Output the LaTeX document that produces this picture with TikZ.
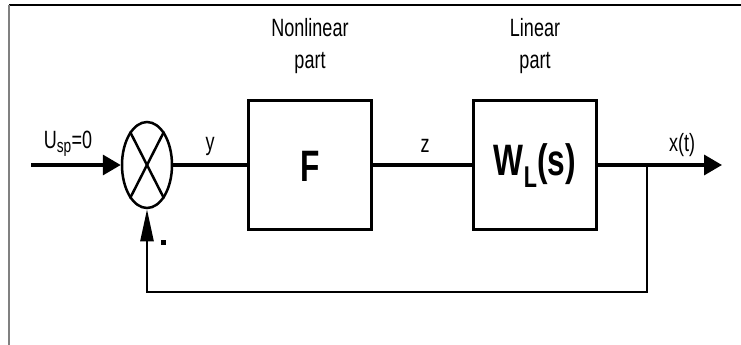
\documentclass[tikz,border=0pt]{standalone}
\usepackage{fontspec}
\setmainfont[FakeStretch=0.72]{Liberation Sans}
\usetikzlibrary{arrows.meta,shapes.geometric}
\begin{document}
\begin{tikzpicture}[x=1pt,y=-1pt,
  blk/.style={draw,line width=3.5pt,minimum width=123pt,minimum height=129pt,inner sep=0pt},
  lbl/.style={font=\fontsize{25}{27}\selectfont,inner sep=0pt},
  title/.style={font=\fontsize{25}{32}\selectfont,align=center,inner sep=0pt},
  big/.style={font=\fontsize{44}{46}\selectfont\bfseries,inner sep=0pt},
  wire/.style={line width=3.5pt},
  fb/.style={line width=2.5pt},
  tip/.style={-{Triangle[length=18pt,width=20pt]}},
  uptip/.style={-{Triangle[length=32pt,width=13pt]}}]
\useasboundingbox (0,0) rectangle (741,345);
% frame
\draw[line width=1.8pt] (9,5) -- (741,5);
\draw[line width=2.2pt,gray] (9,5) -- (9,345);
% nodes
\node[ellipse,draw,line width=2.5pt,minimum width=50pt,minimum height=86pt,inner sep=0pt] (sum) at (147,165) {};
\draw[line width=2.5pt] (sum.63) -- (sum.-117);
\draw[line width=2.5pt] (sum.117) -- (sum.-63);
\node[blk] (F) at (310,165) {};
\node[big] at (310,166) {F};
\node[blk] (W) at (535,165) {};
\node[big] at (535,166) {W\textsubscript{\fontsize{30}{30}\selectfont L}(s)};
\node[title] (t1) at (310,46) {Nonlinear\\part};
\node[title] (t2) at (535,46) {Linear\\part};
\coordinate (in) at (31,165);
\coordinate (out) at (722,165);
\coordinate (br) at (647,165);
\coordinate (c1) at (647,292);
\coordinate (c2) at (147,292);
% connectors
\draw[wire,tip] (in) -- (sum.west);
\draw[wire] (sum.east) -- (F.west);
\draw[wire] (F.east) -- (W.west);
\draw[wire,tip] (W.east) -- (out);
\draw[fb,uptip] (br) -- (c1) -- (c2) -- (sum.south);
% labels
\node[lbl] (u) at (68,144) {U\textsubscript{\fontsize{19}{19}\selectfont sp}=0};
\node[lbl] (y) at (210,146) {y};
\node[lbl] (z) at (425,146) {z};
\node[lbl] (x) at (682,145) {x(t)};
\node[fill,minimum size=5pt,inner sep=0pt] (m) at (163,242) {};
\end{tikzpicture}
\end{document}
